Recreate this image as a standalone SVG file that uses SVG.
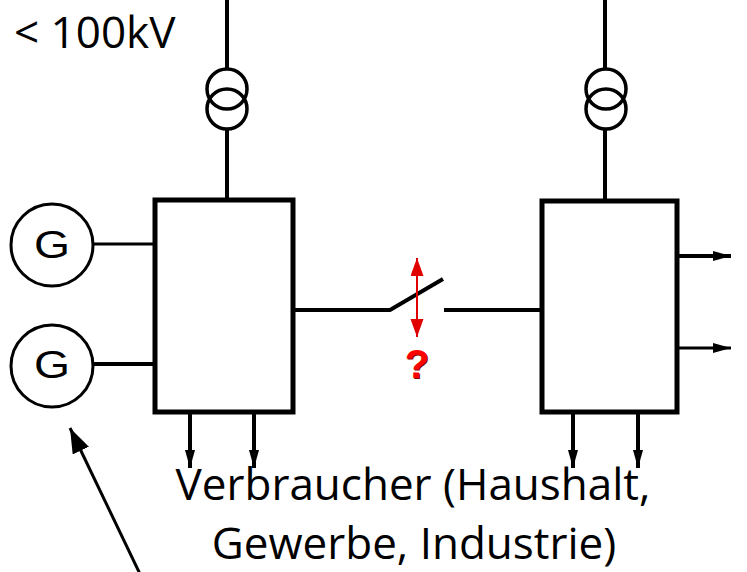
<svg xmlns="http://www.w3.org/2000/svg" width="747" height="572" viewBox="0 0 747 572">
  <style>
    .ln { stroke: #000; fill: none; }
    .box { fill: #fff; stroke: #000; stroke-width: 5; }
    .tr { fill: none; stroke: #000; stroke-width: 3.5; }
    .gen { fill: #fff; stroke: #000; stroke-width: 3; }
    .gt { font-family: "Liberation Sans", Arial, sans-serif; font-size: 39px; fill: #000; text-anchor: middle; }
    .lbl { font-family: "Open Sans", "DejaVu Sans", sans-serif; font-size: 44px; fill: #000; }
    .q { font-family: "Liberation Sans", Arial, sans-serif; font-weight: bold; font-size: 40px; text-anchor: middle; }
  </style>
  <defs>
    <marker id="ah" markerUnits="userSpaceOnUse" markerWidth="20" markerHeight="12" refX="18" refY="6" orient="auto">
      <path d="M0,1 L18,6 L0,11 Z" fill="#000"/>
    </marker>
    <marker id="ahBig" markerUnits="userSpaceOnUse" markerWidth="26" markerHeight="20" refX="25" refY="9" orient="auto">
      <path d="M0,0 L25,9 L0,18 Z" fill="#000"/>
    </marker>
    <marker id="ahRed" markerUnits="userSpaceOnUse" markerWidth="20" markerHeight="14" refX="18" refY="6.5" orient="auto-start-reverse">
      <path d="M0,0 L18,6.5 L0,13 Z" fill="#e00000"/>
    </marker>
  </defs>

  <g id="label-voltage">
    <text class="lbl" x="14" y="48" font-size="46">&lt; 100kV</text>
  </g>

  <g id="connectors">
    <line class="ln" x1="227" y1="0" x2="227" y2="69" stroke-width="4"/>
    <line class="ln" x1="227" y1="129" x2="227" y2="200" stroke-width="4"/>
    <line class="ln" x1="605" y1="0" x2="605" y2="69" stroke-width="4"/>
    <line class="ln" x1="605" y1="129" x2="605" y2="201" stroke-width="4"/>
    <line class="ln" x1="94" y1="244" x2="155" y2="244" stroke-width="3"/>
    <line class="ln" x1="94" y1="364" x2="155" y2="364" stroke-width="4"/>
    <polyline class="ln" points="293,310 390,310 443,279" stroke-width="4"/>
    <line class="ln" x1="444" y1="310" x2="542" y2="310" stroke-width="4"/>
    <line class="ln" x1="190" y1="412" x2="190" y2="468" stroke-width="4" marker-end="url(#ah)"/>
    <line class="ln" x1="254" y1="412" x2="254" y2="468" stroke-width="4" marker-end="url(#ah)"/>
    <line class="ln" x1="573" y1="413" x2="573" y2="468" stroke-width="4" marker-end="url(#ah)"/>
    <line class="ln" x1="638" y1="413" x2="638" y2="468" stroke-width="4" marker-end="url(#ah)"/>
    <line class="ln" x1="677" y1="256" x2="731" y2="256" stroke-width="4" marker-end="url(#ah)"/>
    <line class="ln" x1="677" y1="348" x2="731" y2="348" stroke-width="3" marker-end="url(#ah)"/>
    <line class="ln" x1="140" y1="574" x2="70" y2="428" stroke-width="3" marker-end="url(#ahBig)"/>
  </g>

  <g id="transformer-left">
    <circle class="tr" cx="227" cy="89" r="20"/>
    <circle class="tr" cx="227" cy="109" r="20"/>
  </g>
  <g id="transformer-right">
    <circle class="tr" cx="606" cy="89" r="20"/>
    <circle class="tr" cx="606" cy="109" r="20"/>
  </g>

  <g id="box-left">
    <rect class="box" x="155" y="200" width="138" height="212"/>
  </g>
  <g id="box-right">
    <rect class="box" x="542" y="201" width="135" height="211"/>
  </g>

  <g id="generator-1">
    <circle class="gen" cx="52" cy="245" r="41"/>
    <text class="gt" x="52" y="258" textLength="36" lengthAdjust="spacingAndGlyphs">G</text>
  </g>
  <g id="generator-2">
    <circle class="gen" cx="52" cy="366" r="41"/>
    <text class="gt" x="52" y="378" textLength="36" lengthAdjust="spacingAndGlyphs">G</text>
  </g>

  <g id="switch-question">
    <line x1="417" y1="258" x2="417" y2="337" stroke="#e00000" stroke-width="2" marker-start="url(#ahRed)" marker-end="url(#ahRed)"/>
    <text class="q" x="418" y="379" fill="#800000">?</text>
    <text class="q" x="417" y="378" fill="#ff0000">?</text>
  </g>

  <g id="label-consumers">
    <text class="lbl" x="413" y="500" text-anchor="middle">Verbraucher (Haushalt,</text>
    <text class="lbl" x="414" y="559" text-anchor="middle">Gewerbe, Industrie)</text>
  </g>
</svg>
